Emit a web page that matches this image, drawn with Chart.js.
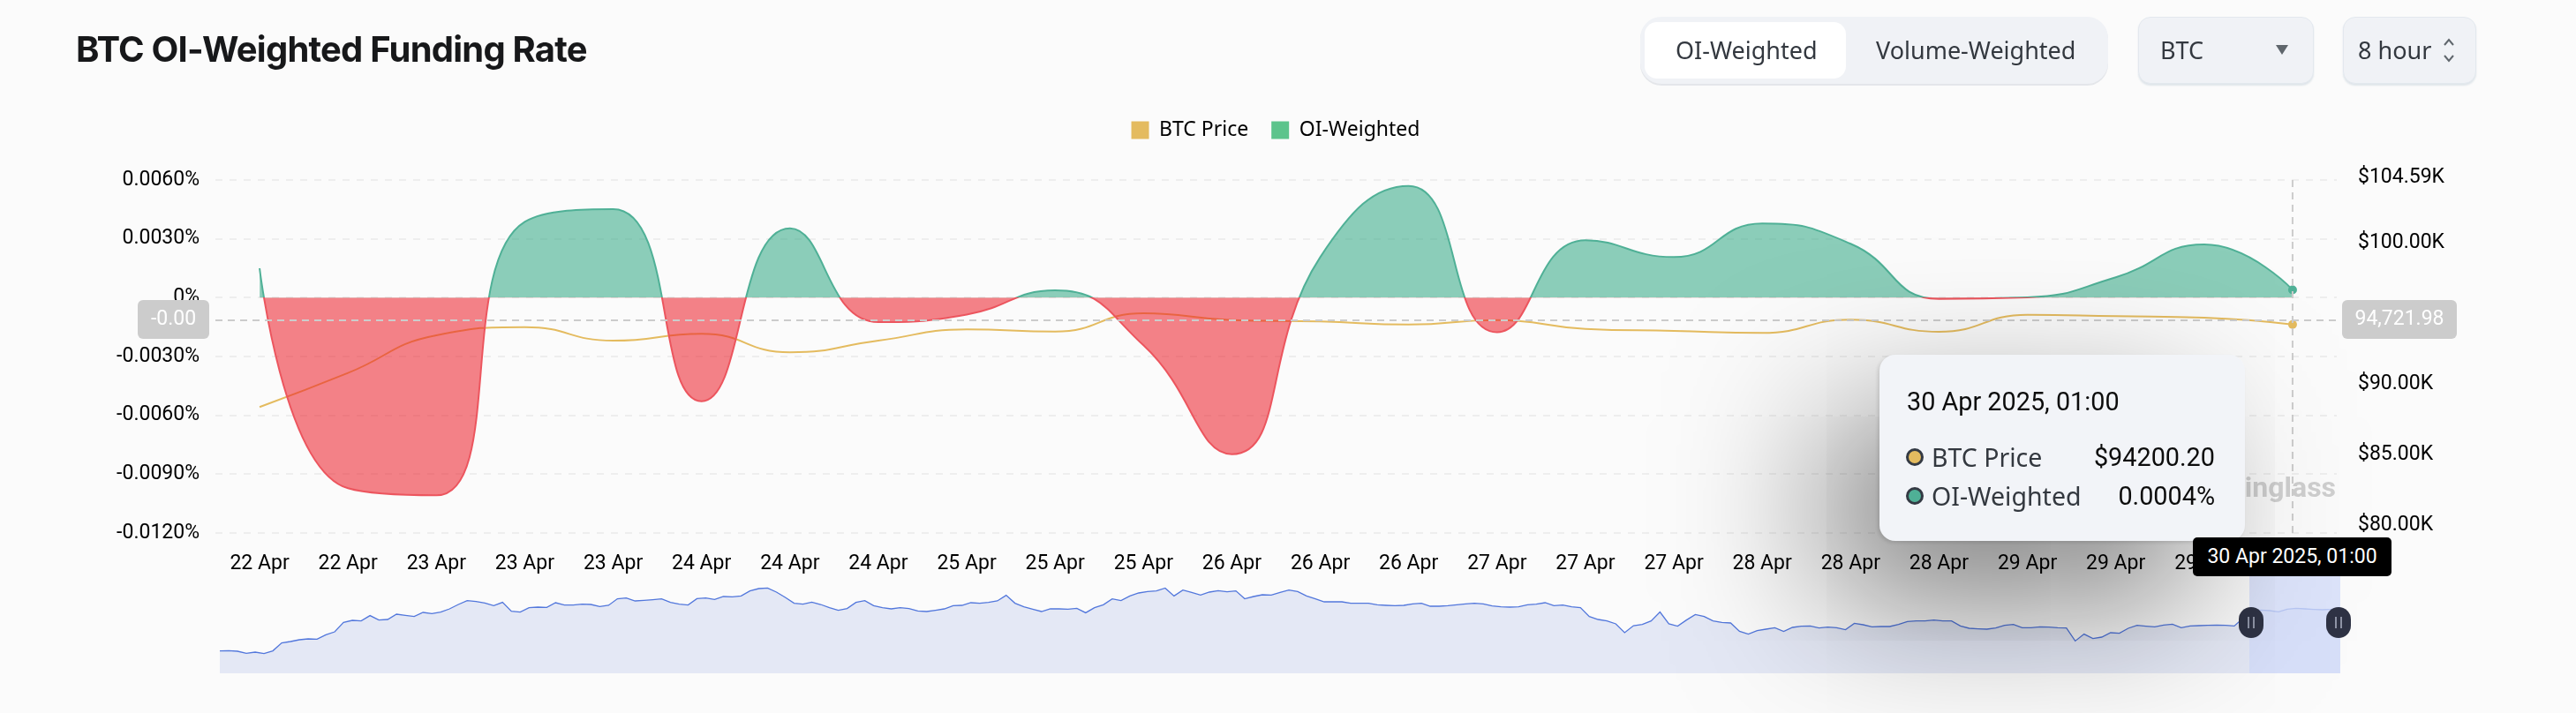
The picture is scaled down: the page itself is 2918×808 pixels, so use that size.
<!DOCTYPE html>
<html>
<head>
<meta charset="utf-8">
<title>BTC OI-Weighted Funding Rate</title>
<script src="https://cdn.jsdelivr.net/npm/chart.js@4/dist/chart.umd.min.js"></script>
<style>
  html, body { margin: 0; width: 2918px; height: 808px; overflow: hidden; background: #fbfbfb; }
  body { position: relative; font-family: "Noto Sans", sans-serif; color: #33383f; }
  canvas { position: absolute; display: block; }
  #mainChart { left: 0; top: 0; }
  #overviewChart { left: 249px; top: 650px; }
  .abs { position: absolute; white-space: nowrap; }
  #title { left: 86px; top: 29px; font: 700 40px/54px Inter, sans-serif; letter-spacing: -0.78px; color: #17181a; }
  #tabs { left: 1858px; top: 19px; width: 530px; height: 76px; background: #f0f2f6; border-radius: 24px; box-shadow: 0 2px 0 #e4e6ea; }
  #tabOn { left: 1863px; top: 25px; width: 228px; height: 64px; background: #fff; border-radius: 14px; }
  .ctl { font-size: 27px; line-height: 36px; top: 39px; }
  .box { top: 19px; height: 74px; background: #f0f2f6; border: 1px solid #e3e8ee; border-radius: 14px; box-shadow: 0 2px 2px #dfe5ea; }
  #arrow { left: 2578px; top: 51px; width: 0; height: 0; border-left: 7px solid transparent; border-right: 7px solid transparent; border-top: 11px solid #5f666c; }
  #watermark { right: 272px; top: 530px; font: 700 32px/44px Roboto, sans-serif; color: #cfcfcf; }
  #range { left: 2548px; top: 650px; width: 103px; height: 113px; background: rgba(212, 220, 250, 0.78); }
  .handle { top: 688px; width: 28px; height: 35px; background: #2f3345; border-radius: 14px; }
  .handle i { position: absolute; top: 11px; width: 2px; height: 13px; background: #8f94a6; }
  #tip { left: 2129px; top: 402px; width: 414px; height: 211px; background: #f2f4f8; border-radius: 18px; box-shadow: -60px 70px 170px rgba(0, 0, 0, 0.5), -2px 2px 4px rgba(0, 0, 0, 0.12); }
  #tip .abs { font-size: 28.5px; line-height: 38px; }
  #tip #tipTime, #tip .tipVal { font-family: Roboto, sans-serif; font-size: 28.8px; color: #0c0c0c; }
  #tipTime { left: 31px; top: 34px; }
  .tipDot { left: 30px; width: 14px; height: 14px; border: 3px solid #343a44; border-radius: 50%; }
  .tipVal { right: 34px; }
  #axisTag { left: 2484px; top: 609px; width: 225px; height: 44px; background: #000; color: #fff; border-radius: 5px; font: 23px/44px Roboto, sans-serif; text-align: center; }
</style>
</head>
<body>
<canvas id="mainChart" width="2918" height="808"></canvas>
<canvas id="overviewChart" width="2402" height="113"></canvas>

<div class="abs" id="title">BTC OI-Weighted Funding Rate</div>
<div class="abs" id="tabs"></div>
<div class="abs" id="tabOn"></div>
<div class="abs ctl" style="left:1898px">OI-Weighted</div>
<div class="abs ctl" style="left:2125px">Volume-Weighted</div>
<div class="abs box" style="left:2422px;width:197px"></div>
<div class="abs ctl" style="left:2447px">BTC</div>
<div class="abs" id="arrow"></div>
<div class="abs box" style="left:2654px;width:149px"></div>
<div class="abs ctl" style="left:2671px">8 hour</div>
<svg class="abs" style="left:2766px;top:42px" width="16" height="30" viewBox="0 0 16 30" fill="none" stroke="#5f666c" stroke-width="2">
  <path d="M3 9 L8 3 L13 9 M3 21 L8 27 L13 21"/>
</svg>

<div class="abs" id="range"></div>
<div class="abs handle" style="left:2536px"><i style="left:10px"></i><i style="left:16px"></i></div>
<div class="abs handle" style="left:2635px"><i style="left:10px"></i><i style="left:16px"></i></div>

<div class="abs" id="watermark">Coinglass</div>
<div class="abs" id="tip">
  <div class="abs" id="tipTime"></div>
  <div class="abs tipDot" style="top:106px;background:#e4bb5f"></div>
  <div class="abs" id="tipName0" style="left:59px;top:97px"></div>
  <div class="abs tipVal" id="tipVal0" style="top:97px"></div>
  <div class="abs tipDot" style="top:150px;background:#4fb096"></div>
  <div class="abs" id="tipName1" style="left:59px;top:141px"></div>
  <div class="abs tipVal" id="tipVal1" style="top:141px"></div>
</div>
<div class="abs" id="axisTag"></div>

<script>
// ── DATA ──
const categories = ['22 Apr', '22 Apr', '23 Apr', '23 Apr', '23 Apr', '24 Apr', '24 Apr', '24 Apr',
  '25 Apr', '25 Apr', '25 Apr', '26 Apr', '26 Apr', '26 Apr', '27 Apr', '27 Apr', '27 Apr',
  '28 Apr', '28 Apr', '28 Apr', '29 Apr', '29 Apr', '29 Apr', '30 Apr'];

const btcPrice = [88356, 90769, 93437, 94019, 93062, 93544, 92231, 93062,
  93854, 93706, 95000, 94519, 94419, 94206, 94519, 93894, 93750,
  93606, 94544, 93687, 94894, 94794, 94687, 94200.20];

const oiWeighted = [0.0015, -0.00972, -0.01008, 0.00387, 0.00452, -0.00528, 0.00354, -0.00125,
  -0.00086, 0.00037, -0.00243, -0.00798, 0.00207, 0.0057, -0.00176, 0.00293, 0.00207,
  0.00378, 0.00275, -0.00006, 0.00002, 0.00104, 0.00271, 0.0004];

const fundingTicks = [-0.012, -0.009, -0.006, -0.003, 0, 0.003, 0.006];
const priceTicks = [80000, 85000, 90000, 100000, 104590];

// price history behind the slider at the bottom, in thousand dollars
const overviewPrice = [
  70.7, 70.8, 70.5, 69.3, 70.0, 69.2, 70.7, 75.2, 76.0, 77.0, 77.5, 77.3, 79.8, 81.5, 86.8, 88.0, 87.7, 90.7, 88.2, 88.5,
  91.5, 90.8, 90.2, 92.5, 91.8, 92.7, 94.5, 97.0, 99.2, 98.7, 97.8, 96.3, 98.2, 93.2, 92.7, 95.2, 95.5, 95.3, 98.0, 96.7,
  96.7, 97.2, 97.0, 95.8, 96.5, 100.2, 100.7, 99.0, 99.3, 99.7, 100.2, 98.2, 97.2, 96.7, 100.3, 100.7, 99.8, 101.5, 101.3, 101.8,
  104.7, 106.0, 106.3, 104.0, 101.0, 97.7, 97.2, 98.3, 97.0, 95.2, 93.7, 94.7, 98.2, 99.2, 96.3, 95.2, 94.5, 95.2, 94.7, 93.3,
  93.0, 93.7, 94.5, 96.3, 96.5, 98.0, 97.7, 98.2, 99.0, 102.2, 97.7, 95.7, 94.3, 93.0, 94.5, 94.5, 94.3, 94.8, 92.3, 95.2,
  96.8, 100.2, 99.2, 101.8, 103.5, 104.3, 104.7, 106.3, 101.8, 105.2, 103.8, 102.3, 104.0, 104.8, 104.2, 104.7, 100.2, 101.5, 102.5, 102.3,
  103.8, 105.2, 104.3, 101.8, 100.2, 98.5, 98.5, 98.5, 97.7, 97.7, 97.7, 96.8, 96.5, 96.3, 96.5, 97.3, 97.7, 96.0, 96.0, 96.3,
  96.8, 97.3, 97.7, 97.3, 96.2, 95.7, 95.5, 95.7, 96.8, 97.2, 98.0, 96.3, 96.7, 95.7, 95.2, 90.2, 88.5, 87.7, 86.0, 81.0,
  85.0, 85.7, 87.7, 92.7, 86.0, 84.7, 88.2, 91.3, 90.2, 87.7, 86.8, 86.5, 81.8, 80.2, 82.2, 83.0, 83.8, 81.7, 84.0, 84.7,
  84.8, 83.7, 84.2, 83.8, 82.7, 86.3, 85.5, 84.3, 84.5, 84.5, 85.7, 87.3, 87.7, 87.7, 88.2, 87.7, 87.7, 84.8, 83.5, 83.2,
  83.0, 83.7, 85.2, 85.7, 83.8, 83.8, 84.3, 84.2, 83.8, 83.7, 76.3, 80.2, 77.7, 78.5, 81.0, 80.7, 83.5, 85.2, 84.7, 84.3,
  85.3, 85.8, 83.8, 84.8, 85.0, 85.2, 85.3, 85.2, 84.8, 89.3, 92.7, 93.8, 93.5, 92.8, 94.3, 94.8, 94.5, 94.2, 94.0, 94.3, 95.0
];

const hoverTime = '30 Apr 2025, 01:00';
const hoverFunding = -0.00116;
const hoverFundingLabel = '-0.00';
const hoverPriceLabel = '94,721.98';

// ── COLOURS ──
const GOLD = '#e4bb5f';
const TEAL = '#4fb096';
const RED = '#ec555e';
const TICK_FONT = { family: 'Roboto', size: 23 };

// ── TOOLTIP TEXT ──
const lastIdx = categories.length - 1;
document.getElementById('tipTime').textContent = hoverTime;
document.getElementById('tipName0').textContent = 'BTC Price';
document.getElementById('tipVal0').textContent = '$' + btcPrice[lastIdx].toFixed(2);
document.getElementById('tipName1').textContent = 'OI-Weighted';
document.getElementById('tipVal1').textContent = oiWeighted[lastIdx].toFixed(4) + '%';
document.getElementById('axisTag').textContent = hoverTime;

// ECharts-style smoothing: tangents are clamped so the curve never overshoots its neighbours
function clampTo(v, a, b) {
  return Math.max(Math.min(v, Math.max(a, b)), Math.min(a, b));
}

function smoothPoints(pts, smooth) {
  let outX = pts[0].x, outY = pts[0].y;
  pts.forEach((p, i) => {
    if (i === 0) return;
    const prev = pts[i - 1], next = pts[i + 1];
    p.cp1x = p.x; p.cp1y = p.y;
    prev.cp2x = outX; prev.cp2y = outY;
    if (!next) return;
    const lenPrev = Math.hypot(p.x - prev.x, p.y - prev.y);
    const lenNext = Math.hypot(next.x - p.x, next.y - p.y);
    const ratio = lenNext / (lenPrev + lenNext);
    let nx = clampTo(p.x + (next.x - prev.x) * smooth * ratio, p.x, next.x);
    let ny = clampTo(p.y + (next.y - prev.y) * smooth * ratio, p.y, next.y);
    const inX = clampTo(p.x - (nx - p.x) * lenPrev / lenNext, prev.x, p.x);
    const inY = clampTo(p.y - (ny - p.y) * lenPrev / lenNext, prev.y, p.y);
    p.cp1x = inX; p.cp1y = inY;
    outX = p.x + (p.x - inX) * lenNext / lenPrev;
    outY = p.y + (p.y - inY) * lenNext / lenPrev;
  });
  const last = pts[pts.length - 1];
  last.cp2x = last.x; last.cp2y = last.y;
}

const smoothPlugin = {
  id: 'smoothPlugin',
  afterDatasetsUpdate(chart) {
    chart.getSortedVisibleDatasetMetas().forEach(meta => {
      meta.dataset.updateControlPoints(chart.chartArea, 'x');
      smoothPoints(meta.data, 0.5);
    });
  }
};

// legend reserves the room down to the top of the plot and sits a little left of centre
const legendRoomPlugin = {
  id: 'legendRoomPlugin',
  beforeInit(chart) {
    const fit = chart.legend.fit;
    chart.legend.fit = function () {
      fit.call(this);
      this.height = 94;
      this.lineWidths[0] += 28;
    };
  }
};

function badge(ctx, x, y, w, h, text) {
  ctx.fillStyle = '#cccccc';
  ctx.beginPath();
  ctx.roundRect(x, y, w, h, 6);
  ctx.fill();
  ctx.fillStyle = '#ffffff';
  ctx.font = '23px Roboto';
  ctx.textAlign = 'center';
  ctx.textBaseline = 'middle';
  ctx.fillText(text, x + w / 2, y + h / 2);
}

// ── HOVER CROSSHAIR ──
const crosshairPlugin = {
  id: 'crosshairPlugin',
  afterDraw(chart) {
    const { ctx, chartArea } = chart;
    const hy = chart.scales.yFunding.getPixelForValue(hoverFunding);
    const hx = chart.scales.x.getPixelForValue(lastIdx);
    ctx.save();
    ctx.strokeStyle = '#cccccc';
    ctx.lineWidth = 2;
    ctx.setLineDash([8, 6]);
    ctx.beginPath();
    ctx.moveTo(chartArea.left, hy);
    ctx.lineTo(chartArea.right, hy);
    ctx.moveTo(hx, chartArea.top);
    ctx.lineTo(hx, chartArea.bottom);
    ctx.stroke();
    ctx.setLineDash([]);
    badge(ctx, 156, hy - 23, 81, 44, hoverFundingLabel);
    badge(ctx, 2653, hy - 23, 130, 44, hoverPriceLabel);
    ctx.restore();
  }
};

function fundingStroke(ctx) {
  const chart = ctx.chart;
  if (!chart.chartArea) return TEAL;
  const { top, bottom } = chart.chartArea;
  const stop = (chart.scales.yFunding.getPixelForValue(0) - top) / (bottom - top);
  const g = chart.ctx.createLinearGradient(0, top, 0, bottom);
  g.addColorStop(0, TEAL);
  g.addColorStop(stop, TEAL);
  g.addColorStop(stop, RED);
  g.addColorStop(1, RED);
  return g;
}

function lastPointOnly(ctx) {
  return ctx.dataIndex === lastIdx ? 5 : 0;
}

// ── MAIN CHART ──
new Chart(document.getElementById('mainChart'), {
  type: 'line',
  data: {
    labels: categories,
    datasets: [
      {
        label: 'BTC Price',
        data: btcPrice,
        yAxisID: 'yPrice',
        order: 2,
        borderColor: GOLD,
        backgroundColor: GOLD,
        borderWidth: 2,
        tension: 0.5,
        pointRadius: lastPointOnly,
        pointBorderWidth: 0,
        fill: false
      },
      {
        label: 'OI-Weighted',
        data: oiWeighted,
        yAxisID: 'yFunding',
        order: 1,
        borderColor: fundingStroke,
        backgroundColor: '#5cc48c',
        pointBackgroundColor: TEAL,
        borderWidth: 2,
        tension: 0.5,
        pointRadius: lastPointOnly,
        pointBorderWidth: 0,
        fill: { target: 'origin', above: 'rgba(47, 167, 131, 0.55)', below: 'rgba(236, 30, 40, 0.55)' }
      }
    ]
  },
  options: {
    responsive: false,
    animation: false,
    events: [],
    layout: { padding: { top: 110 } },
    scales: {
      x: {
        offset: true,
        grid: { display: false },
        border: { display: false },
        ticks: { autoSkip: false, maxRotation: 0, padding: 13, color: '#000', font: TICK_FONT },
        afterFit: s => { s.height = 204; }
      },
      yFunding: {
        position: 'left',
        min: -0.012,
        max: 0.006,
        afterBuildTicks: s => { s.ticks = fundingTicks.map(v => ({ value: v })); },
        grid: { color: '#eeeeee', lineWidth: 2, drawTicks: false },
        border: { display: false, dash: [8, 8] },
        ticks: {
          padding: 18,
          color: '#000',
          font: TICK_FONT,
          callback: v => (v === 0 ? '0%' : v.toFixed(4) + '%')
        },
        afterFit: s => { s.width = 244; }
      },
      yPrice: {
        position: 'right',
        min: 79437.5,
        max: 104437.5,
        afterBuildTicks: s => { s.ticks = priceTicks.map(v => ({ value: v })); },
        grid: { display: false },
        border: { display: false },
        ticks: {
          padding: 16,
          autoSkip: false,
          color: '#000',
          font: TICK_FONT,
          callback: v => '$' + (v / 1000).toFixed(2) + 'K'
        },
        afterFit: s => { s.width = 271; }
      }
    },
    plugins: {
      tooltip: { enabled: false },
      legend: {
        position: 'top',
        labels: {
          boxWidth: 20,
          boxHeight: 20,
          padding: 26,
          color: '#3a3d42',
          font: { family: 'Noto Sans', size: 23 },
          generateLabels: chart => chart.data.datasets.map((d, i) => ({
            text: d.label,
            fillStyle: d.backgroundColor,
            lineWidth: 0,
            strokeStyle: 'transparent',
            datasetIndex: i
          }))
        }
      }
    }
  },
  plugins: [smoothPlugin, legendRoomPlugin, crosshairPlugin]
});

// ── OVERVIEW SLIDER ──
new Chart(document.getElementById('overviewChart'), {
  type: 'line',
  data: {
    labels: overviewPrice.map((v, i) => i),
    datasets: [{
      data: overviewPrice,
      borderColor: '#5277dc',
      backgroundColor: '#e4e8f5',
      borderWidth: 1.3,
      pointRadius: 0,
      tension: 0,
      fill: 'origin'
    }]
  },
  options: {
    responsive: false,
    animation: false,
    events: [],
    layout: { padding: 0 },
    scales: {
      x: { display: false, offset: false },
      y: { display: false, min: 58, max: 114.5 }
    },
    plugins: { legend: { display: false }, tooltip: { enabled: false } }
  }
});
</script>
</body>
</html>
